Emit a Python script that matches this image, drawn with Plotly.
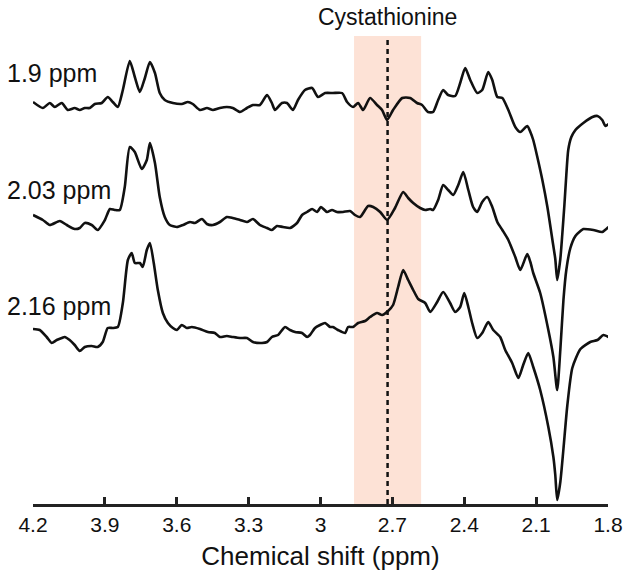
import plotly.graph_objects as go

# ---------------- data ----------------
tick_vals = [4.2, 3.9, 3.6, 3.3, 3.0, 2.7, 2.4, 2.1, 1.8]
tick_text = ["4.2", "3.9", "3.6", "3.3", "3", "2.7", "2.4", "2.1", "1.8"]

labels = ["1.9 ppm", "2.03 ppm", "2.16 ppm"]
label_levels = [4.31, 3.145, 1.985]

cysta_ppm = 2.72
cysta_band = [2.86, 2.58]

ppm_19 = [4.200, 4.159, 4.130, 4.109, 4.080, 4.055, 4.026, 4.005, 3.984, 3.963,
          3.942, 3.913, 3.888, 3.867, 3.846, 3.825, 3.796, 3.775, 3.754, 3.733,
          3.712, 3.691, 3.671, 3.650, 3.616, 3.579, 3.554, 3.533, 3.503, 3.474,
          3.449, 3.420, 3.391, 3.366, 3.336, 3.307, 3.282, 3.253, 3.223, 3.203,
          3.190, 3.161, 3.140, 3.115, 3.094, 3.065, 3.035, 3.010, 2.981, 2.948,
          2.910, 2.889, 2.864, 2.843, 2.822, 2.793, 2.764, 2.743, 2.722, 2.697,
          2.659, 2.626, 2.597, 2.576, 2.551, 2.530, 2.509, 2.488, 2.467, 2.438,
          2.417, 2.396, 2.375, 2.346, 2.325, 2.300, 2.283, 2.262, 2.241, 2.216,
          2.187, 2.166, 2.137, 2.124, 2.112, 2.095, 2.074, 2.053, 2.032, 2.020,
          2.012, 1.999, 1.991, 1.982, 1.974, 1.966, 1.953, 1.936, 1.928, 1.903,
          1.865, 1.844, 1.824, 1.811, 1.798]
int_19 = [4.02, 3.96, 4.01, 3.97, 4.01, 3.94, 3.96, 3.94, 3.96, 3.96,
          4.00, 4.01, 4.07, 4.02, 3.97, 4.14, 4.43, 4.27, 4.12, 4.26,
          4.42, 4.31, 4.11, 4.04, 4.01, 4.00, 4.02, 4.00, 3.94, 3.96,
          3.94, 3.96, 3.97, 3.96, 3.92, 3.96, 3.99, 3.99, 4.09, 4.01,
          3.94, 4.01, 4.01, 3.94, 4.04, 4.14, 4.16, 4.07, 4.11, 4.11,
          4.11, 4.02, 3.97, 4.01, 3.94, 4.06, 3.99, 3.94, 3.84, 3.94,
          4.06, 4.06, 4.01, 3.99, 3.92, 3.92, 4.04, 4.14, 4.09, 4.08,
          4.21, 4.36, 4.24, 4.11, 4.14, 4.32, 4.24, 4.07, 4.06, 3.94,
          3.77, 3.72, 3.78, 3.72, 3.64, 3.47, 3.24, 2.97, 2.64, 2.45,
          2.24, 2.45, 2.69, 2.99, 3.29, 3.54, 3.67, 3.74, 3.76, 3.81,
          3.87, 3.88, 3.84, 3.78, 3.80]

ppm_203 = [4.200, 4.159, 4.130, 4.088, 4.059, 4.026, 4.005, 3.984, 3.955, 3.930,
           3.900, 3.879, 3.859, 3.838, 3.817, 3.796, 3.775, 3.746, 3.725, 3.712,
           3.691, 3.671, 3.650, 3.629, 3.599, 3.574, 3.545, 3.524, 3.495, 3.474,
           3.449, 3.420, 3.391, 3.366, 3.336, 3.307, 3.282, 3.253, 3.223, 3.203,
           3.182, 3.157, 3.127, 3.098, 3.077, 3.056, 3.035, 3.014, 2.998, 2.973,
           2.952, 2.931, 2.906, 2.877, 2.856, 2.835, 2.801, 2.780, 2.751, 2.722,
           2.689, 2.655, 2.634, 2.613, 2.584, 2.563, 2.542, 2.530, 2.509, 2.488,
           2.467, 2.446, 2.425, 2.404, 2.383, 2.363, 2.346, 2.325, 2.304, 2.283,
           2.262, 2.241, 2.216, 2.187, 2.166, 2.137, 2.124, 2.112, 2.083, 2.049,
           2.028, 2.012, 1.999, 1.986, 1.974, 1.957, 1.936, 1.915, 1.903, 1.861,
           1.824, 1.798]
int_203 = [2.89, 2.84, 2.79, 2.83, 2.79, 2.75, 2.76, 2.81, 2.79, 2.74,
           2.84, 2.95, 2.94, 2.94, 3.17, 3.57, 3.52, 3.35, 3.44, 3.61,
           3.41, 3.07, 2.87, 2.79, 2.77, 2.79, 2.82, 2.81, 2.85, 2.80,
           2.79, 2.82, 2.87, 2.86, 2.84, 2.82, 2.85, 2.79, 2.76, 2.74,
           2.78, 2.77, 2.76, 2.81, 2.89, 2.92, 2.95, 2.92, 2.97, 2.92,
           2.94, 2.92, 2.92, 2.93, 2.89, 2.87, 2.98, 2.97, 2.92, 2.84,
           2.96, 3.12, 3.06, 3.01, 2.96, 2.94, 2.95, 2.94, 3.04, 3.19,
           3.14, 3.09, 3.19, 3.32, 3.14, 2.97, 2.92, 3.02, 3.07, 2.97,
           2.82, 2.74, 2.64, 2.47, 2.34, 2.50, 2.42, 2.31, 2.11, 1.74,
           1.47, 1.14, 1.54, 2.04, 2.34, 2.56, 2.68, 2.73, 2.75, 2.74,
           2.72, 2.77]

ppm_216 = [4.200, 4.172, 4.143, 4.122, 4.101, 4.080, 4.068, 4.047, 4.026, 4.005,
           3.984, 3.955, 3.930, 3.909, 3.888, 3.867, 3.846, 3.825, 3.804, 3.788,
           3.775, 3.754, 3.742, 3.725, 3.712, 3.696, 3.679, 3.658, 3.637, 3.616,
           3.599, 3.579, 3.558, 3.537, 3.503, 3.470, 3.441, 3.420, 3.391, 3.366,
           3.336, 3.307, 3.282, 3.244, 3.223, 3.203, 3.177, 3.148, 3.127, 3.106,
           3.077, 3.056, 3.044, 3.023, 3.002, 2.981, 2.960, 2.948, 2.927, 2.897,
           2.885, 2.864, 2.843, 2.814, 2.793, 2.764, 2.743, 2.718, 2.697, 2.676,
           2.655, 2.634, 2.613, 2.592, 2.563, 2.542, 2.513, 2.488, 2.459, 2.438,
           2.417, 2.400, 2.383, 2.367, 2.346, 2.325, 2.300, 2.279, 2.250, 2.229,
           2.200, 2.174, 2.154, 2.133, 2.112, 2.083, 2.049, 2.028, 2.020, 2.012,
           1.999, 1.986, 1.970, 1.949, 1.915, 1.874, 1.844, 1.819, 1.798]
int_216 = [1.75, 1.74, 1.67, 1.61, 1.64, 1.66, 1.67, 1.64, 1.59, 1.53,
           1.57, 1.58, 1.57, 1.62, 1.76, 1.76, 1.77, 2.01, 2.44, 2.51,
           2.41, 2.41, 2.37, 2.54, 2.61, 2.41, 2.14, 1.91, 1.81, 1.76,
           1.74, 1.79, 1.76, 1.77, 1.75, 1.72, 1.71, 1.67, 1.68, 1.67,
           1.66, 1.66, 1.62, 1.61, 1.62, 1.67, 1.69, 1.77, 1.74, 1.72,
           1.71, 1.67, 1.69, 1.76, 1.79, 1.81, 1.77, 1.77, 1.74, 1.71,
           1.77, 1.77, 1.81, 1.83, 1.87, 1.91, 1.89, 1.93, 1.99, 2.17,
           2.34, 2.24, 2.14, 2.05, 2.01, 1.92, 2.02, 2.12, 2.01, 1.92,
           1.97, 2.11, 1.97, 1.81, 1.66, 1.71, 1.82, 1.74, 1.67, 1.54,
           1.41, 1.26, 1.39, 1.51, 1.37, 1.14, 0.77, 0.47, 0.29, 0.04,
           0.22, 0.55, 0.98, 1.36, 1.55, 1.62, 1.64, 1.69, 1.67]

spectra = [(ppm_19, int_19), (ppm_203, int_203), (ppm_216, int_216)]

# ---------------- figure ----------------
FONT = "Liberation Sans, Arial, Helvetica, sans-serif"
fig = go.Figure()

for (px, iy), name in zip(spectra, labels):
    pairs = list(zip(px, iy, strict=True))
    fig.add_trace(go.Scatter(
        x=[p[0] for p in pairs], y=[p[1] for p in pairs],
        mode="lines", name=name, showlegend=False,
        line=dict(color="#111111", width=2.6, shape="spline", smoothing=0.6),
        hoverinfo="skip"))

fig.add_shape(type="rect", xref="x", yref="y",
              x0=cysta_band[0], x1=cysta_band[1], y0=0, y1=4.68,
              fillcolor="#fde2d6", line=dict(width=0), layer="below")
fig.add_shape(type="line", xref="x", yref="y",
              x0=cysta_ppm, x1=cysta_ppm, y0=0, y1=4.68,
              line=dict(color="#111111", width=2.5, dash="5px,4px"), layer="above")

for text, lvl in zip(labels, label_levels):
    fig.add_annotation(text=text, xref="paper", yref="y", x=-0.048, y=lvl,
                       xanchor="left", yanchor="middle", showarrow=False,
                       font=dict(family=FONT, size=25, color="#111111"))

fig.add_annotation(text="Cystathionine", xref="x", yref="paper", x=cysta_ppm,
                   y=1.036, xanchor="center", yanchor="middle", showarrow=False,
                   font=dict(family=FONT, size=23, color="#111111"))

fig.update_layout(
    width=625, height=582,
    margin=dict(l=33, r=17, t=34, b=78, autoexpand=False),
    paper_bgcolor="white", plot_bgcolor="white",
    font=dict(family=FONT, color="#111111"),
    xaxis=dict(range=[4.2, 1.8], tickvals=tick_vals, ticktext=tick_text,
               automargin=False,
               showgrid=False, zeroline=False, showline=True,
               linecolor="#222222", linewidth=2.5,
               ticks="inside", ticklen=7, tickwidth=2.5, tickcolor="#222222",
               tickfont=dict(family=FONT, size=21, color="#111111"),
               title=dict(text="Chemical shift (ppm)", standoff=12,
                          font=dict(family=FONT, size=26, color="#111111"))),
    yaxis=dict(range=[0, 4.70], visible=False, showgrid=False, zeroline=False,
               automargin=False),
)

fig.write_html("out.html",
               config={"displayModeBar": False},
               post_script="document.body.style.margin='0';document.body.style.overflow='hidden';")
